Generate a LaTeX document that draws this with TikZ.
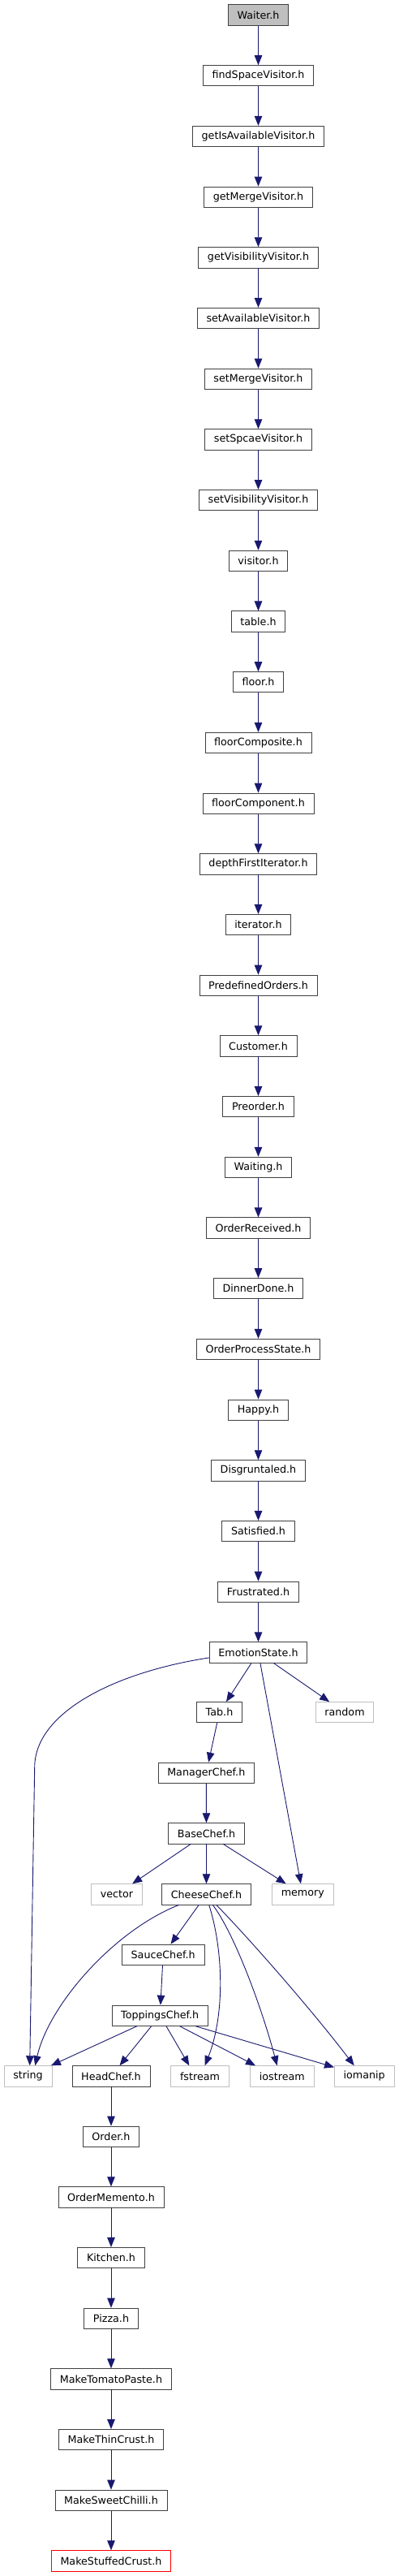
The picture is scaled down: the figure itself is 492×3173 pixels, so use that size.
\documentclass[tikz,border=0pt]{standalone}
\usepackage{fontspec}
\setmainfont{DejaVu Sans}
\usetikzlibrary{arrows.meta,calc}
\definecolor{edgec}{HTML}{191970}
\definecolor{bord}{HTML}{404040}
\definecolor{extb}{HTML}{BFBFBF}
\definecolor{rootf}{HTML}{BFBFBF}
\tikzset{
 fbox/.style={draw=bord, line width=0.8pt, fill=white, inner xsep=11.2pt, inner ysep=0pt, minimum height=25.3pt, font=\fontsize{12.7}{14}\selectfont, text=black},
 ext/.style={fbox, draw=extb},
 rootbox/.style={fbox, fill=rootf},
 trunc/.style={fbox, draw=red},
 edge/.style={draw=edgec, line width=0.9pt, -{Triangle[length=12pt,width=9.5pt]}},
}
\begin{document}
\begin{tikzpicture}[x=1pt,y=-1pt]
\fill[white] (0,0) rectangle (492,3173);
\useasboundingbox (0,0) rectangle (492,3173);
% top chain
\node[rootbox] (n0) at (318.5,18.5) {Waiter.h};
\node[fbox] (n1) at (318.5,93.2) {findSpaceVisitor.h};
\node[fbox] (n2) at (318.5,167.9) {getIsAvailableVisitor.h};
\node[fbox] (n3) at (318.5,242.6) {getMergeVisitor.h};
\node[fbox] (n4) at (318.5,317.3) {getVisibilityVisitor.h};
\node[fbox] (n5) at (318.5,392.0) {setAvailableVisitor.h};
\node[fbox] (n6) at (318.5,466.7) {setMergeVisitor.h};
\node[fbox] (n7) at (318.5,541.4) {setSpcaeVisitor.h};
\node[fbox] (n8) at (318.5,616.1) {setVisibilityVisitor.h};
\node[fbox] (n9) at (318.5,690.8) {visitor.h};
\node[fbox] (n10) at (318.5,765.5) {table.h};
\node[fbox] (n11) at (318.5,840.2) {floor.h};
\node[fbox] (n12) at (318.5,914.9) {floorComposite.h};
\node[fbox] (n13) at (318.5,989.6) {floorComponent.h};
\node[fbox] (n14) at (318.5,1064.3) {depthFirstIterator.h};
\node[fbox] (n15) at (318.5,1139.0) {iterator.h};
\node[fbox] (n16) at (318.5,1213.7) {PredefinedOrders.h};
\node[fbox] (n17) at (318.5,1288.4) {Customer.h};
\node[fbox] (n18) at (318.5,1363.1) {Preorder.h};
\node[fbox] (n19) at (318.5,1437.8) {Waiting.h};
\node[fbox] (n20) at (318.5,1512.5) {OrderReceived.h};
\node[fbox] (n21) at (318.5,1587.2) {DinnerDone.h};
\node[fbox] (n22) at (318.5,1661.9) {OrderProcessState.h};
\node[fbox] (n23) at (318.5,1736.6) {Happy.h};
\node[fbox] (n24) at (318.5,1811.3) {Disgruntaled.h};
\node[fbox] (n25) at (318.5,1886.0) {Satisfied.h};
\node[fbox] (n26) at (318.5,1960.7) {Frustrated.h};
\node[fbox] (n27) at (318.5,2035.4) {EmotionState.h};
\foreach \i in {1,...,27} {
  \pgfmathtruncatemacro\j{\i-1}
  \draw[edge] (n\j) -- (n\i);
}
% middle
\node[fbox] (tab) at (270.5,2109.2) {Tab.h};
\node[ext] (rnd) at (425.0,2109.2) {random};
\node[fbox] (mgr) at (254.3,2183.7) {ManagerChef.h};
\node[fbox] (base) at (254.5,2258.3) {BaseChef.h};
\node[ext] (vec) at (144.0,2333.3) {vector};
\node[fbox] (cheese) at (254.5,2333.3) {CheeseChef.h};
\node[ext] (mem) at (373.3,2333.3) {memory};
\node[fbox] (sauce) at (201.2,2407.7) {SauceChef.h};
\node[fbox] (top) at (197.2,2482.7) {ToppingsChef.h};
\node[ext] (str) at (34.5,2557.3) {string};
\node[fbox] (head) at (137.0,2557.3) {HeadChef.h};
\node[ext] (fst) at (246.5,2557.3) {fstream};
\node[ext] (ios) at (347.8,2557.3) {iostream};
\node[ext] (iom) at (449.2,2557.3) {iomanip};
% bottom chain
\node[fbox] (order) at (137.0,2631.7) {Order.h};
\node[fbox] (memento) at (137.0,2706.3) {OrderMemento.h};
\node[fbox] (kitchen) at (137.0,2781.0) {Kitchen.h};
\node[fbox] (pizza) at (137.0,2855.7) {Pizza.h};
\node[fbox] (tomato) at (137.0,2930.3) {MakeTomatoPaste.h};
\node[fbox] (thin) at (137.0,3005.0) {MakeThinCrust.h};
\node[fbox] (sweet) at (137.0,3079.7) {MakeSweetChilli.h};
\node[trunc] (stuffed) at (137.0,3154.3) {MakeStuffedCrust.h};
% edges
\draw[edge] ($(n27.west)+(0,6.5)$) .. controls (140,2060) and (42.7,2110) .. (42.7,2177) -- ($(str.north)+(2.2,0)$);
\draw[edge] (n27) -- (tab);
\draw[edge] (n27) -- (mem);
\draw[edge] (n27) -- (rnd);
\draw[edge] (tab) -- (mgr);
\draw[edge] (mgr) -- (base);
\draw[edge] (base) -- (vec);
\draw[edge] (base) -- (cheese);
\draw[edge] (base) -- (mem);
\draw[edge] (cheese) -- (sauce);
\draw[edge] ($(cheese.south)+(-33.8,0)$) .. controls (140,2378) and (60,2470) .. ($(str.north)+(8.8,0)$);
\draw[edge] ($(cheese.south)+(3.2,0)$) .. controls (275,2400) and (278,2480) .. ($(fst.north)+(6.2,0)$);
\draw[edge] ($(cheese.south)+(7.8,0)$) .. controls (288,2380) and (322,2470) .. ($(ios.north)+(-6.1,0)$);
\draw[edge] ($(cheese.south)+(12.2,0)$) .. controls (300,2380) and (380,2470) .. ($(iom.north)+(-12.5,0)$);
\draw[edge] (sauce) -- (top);
\draw[edge] (top) -- (str);
\draw[edge] (top) -- (head);
\draw[edge] ($(top.south)+(7.8,0)$) -- ($(fst.north)+(-13.2,0)$);
\draw[edge] ($(top.south)+(24.5,0)$) -- ($(ios.north)+(-32.8,0)$);
\draw[edge] (top) -- (iom);
\draw[edge] (head) -- (order);
\draw[edge] (order) -- (memento);
\draw[edge] (memento) -- (kitchen);
\draw[edge] (kitchen) -- (pizza);
\draw[edge] (pizza) -- (tomato);
\draw[edge] (tomato) -- (thin);
\draw[edge] (thin) -- (sweet);
\draw[edge] (sweet) -- (stuffed);
\end{tikzpicture}
\end{document}
